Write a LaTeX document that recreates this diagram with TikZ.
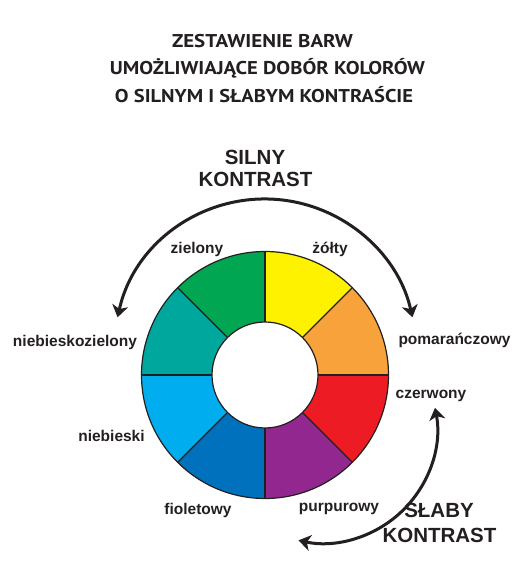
\documentclass[tikz,border=0pt]{standalone}
\usepackage{fontspec}
\usepackage{graphicx}
\setmainfont{Liberation Sans}
\newfontfamily\titlefont{PT Sans}
\usetikzlibrary{arrows.meta}
\definecolor{ink}{HTML}{231F20}
\definecolor{cyellow}{HTML}{FFF200}
\definecolor{corange}{HTML}{F7A23B}
\definecolor{cred}{HTML}{ED1C24}
\definecolor{cpurple}{HTML}{92278F}
\definecolor{cdblue}{HTML}{0071BC}
\definecolor{ccyan}{HTML}{00AEEF}
\definecolor{cteal}{HTML}{00A79D}
\definecolor{cgreen}{HTML}{00A651}
\tikzset{
  seg/.style={draw=ink, line width=1.2pt},
  lbl/.style={anchor=base, inner sep=0pt, text=ink, font=\fontsize{15.5}{18}\selectfont\bfseries},
  big/.style={anchor=base, inner sep=0pt, text=ink, font=\fontsize{20.5}{24}\selectfont\bfseries},
  ttl/.style={anchor=base, inner sep=0pt, text=ink, font=\titlefont\fontsize{18.5}{22}\selectfont\bfseries},
  bigarrow/.style={draw=ink, line width=3pt, {Stealth[length=12pt,width=16pt,inset=3.5pt]}-{Stealth[length=12pt,width=16pt,inset=3.5pt]}}
}
\begin{document}
\begin{tikzpicture}[x=1pt,y=1pt]
\useasboundingbox (0,0) rectangle (530,586);
% title
\node[ttl] (t1) at (262.5,538) {\resizebox{181pt}{\height}{ZESTAWIENIE BARW}};
\node[ttl] (t2) at (267.5,511) {\resizebox{315pt}{\height}{UMOŻLIWIAJĄCE DOBÓR KOLORÓW}};
\node[ttl] (t3) at (264,483) {\resizebox{298pt}{\height}{O SILNYM I SŁABYM KONTRAŚCIE}};
% wheel
\coordinate (C) at (265,211);
\foreach \a/\c in {0/corange,45/cyellow,90/cgreen,135/cteal,180/ccyan,225/cdblue,270/cpurple,315/cred}
  \fill[\c] (C) -- ++(\a:123.5) arc[start angle=\a, end angle=\a+45, radius=123.5] -- cycle;
\foreach \a in {0,45,...,315}
  \draw[seg] (C) ++(\a:53) -- ++(\a:70.5);
\draw[seg, fill=white] (C) circle[radius=53];
\draw[seg] (C) circle[radius=123.5];
% colour labels
\node[lbl] (zielony) at (197,332) {zielony};
\node[lbl] (zolty) at (330,332) {żółty};
\node[lbl] (nz) at (75,239) {niebieskozielony};
\node[lbl] (pom) at (454.5,241) {pomarańczowy};
\node[lbl] (czer) at (431,187) {czerwony};
\node[lbl] (nieb) at (111.5,144) {niebieski};
\node[lbl] (fiol) at (198,71) {fioletowy};
\node[lbl] (purp) at (339,74) {purpurowy};
% contrast labels
\node[big] (silny) at (255,421) {SILNY};
\node[big] (kon1) at (255.5,399) {KONTRAST};
\node[big] (slaby) at (439,68) {SŁABY};
\node[big] (kon2) at (439.5,43) {KONTRAST};
% arrows
\coordinate (s1) at ([shift={(265,236)}]167.5:151);
\draw[bigarrow] (s1) arc[start angle=167.5, end angle=12.5, radius=151];
\coordinate (s2) at ([shift={(323,157)}]10.7:114);
\draw[bigarrow] (s2) arc[start angle=10.7, end angle=-102.4, radius=114];
\end{tikzpicture}
\end{document}
